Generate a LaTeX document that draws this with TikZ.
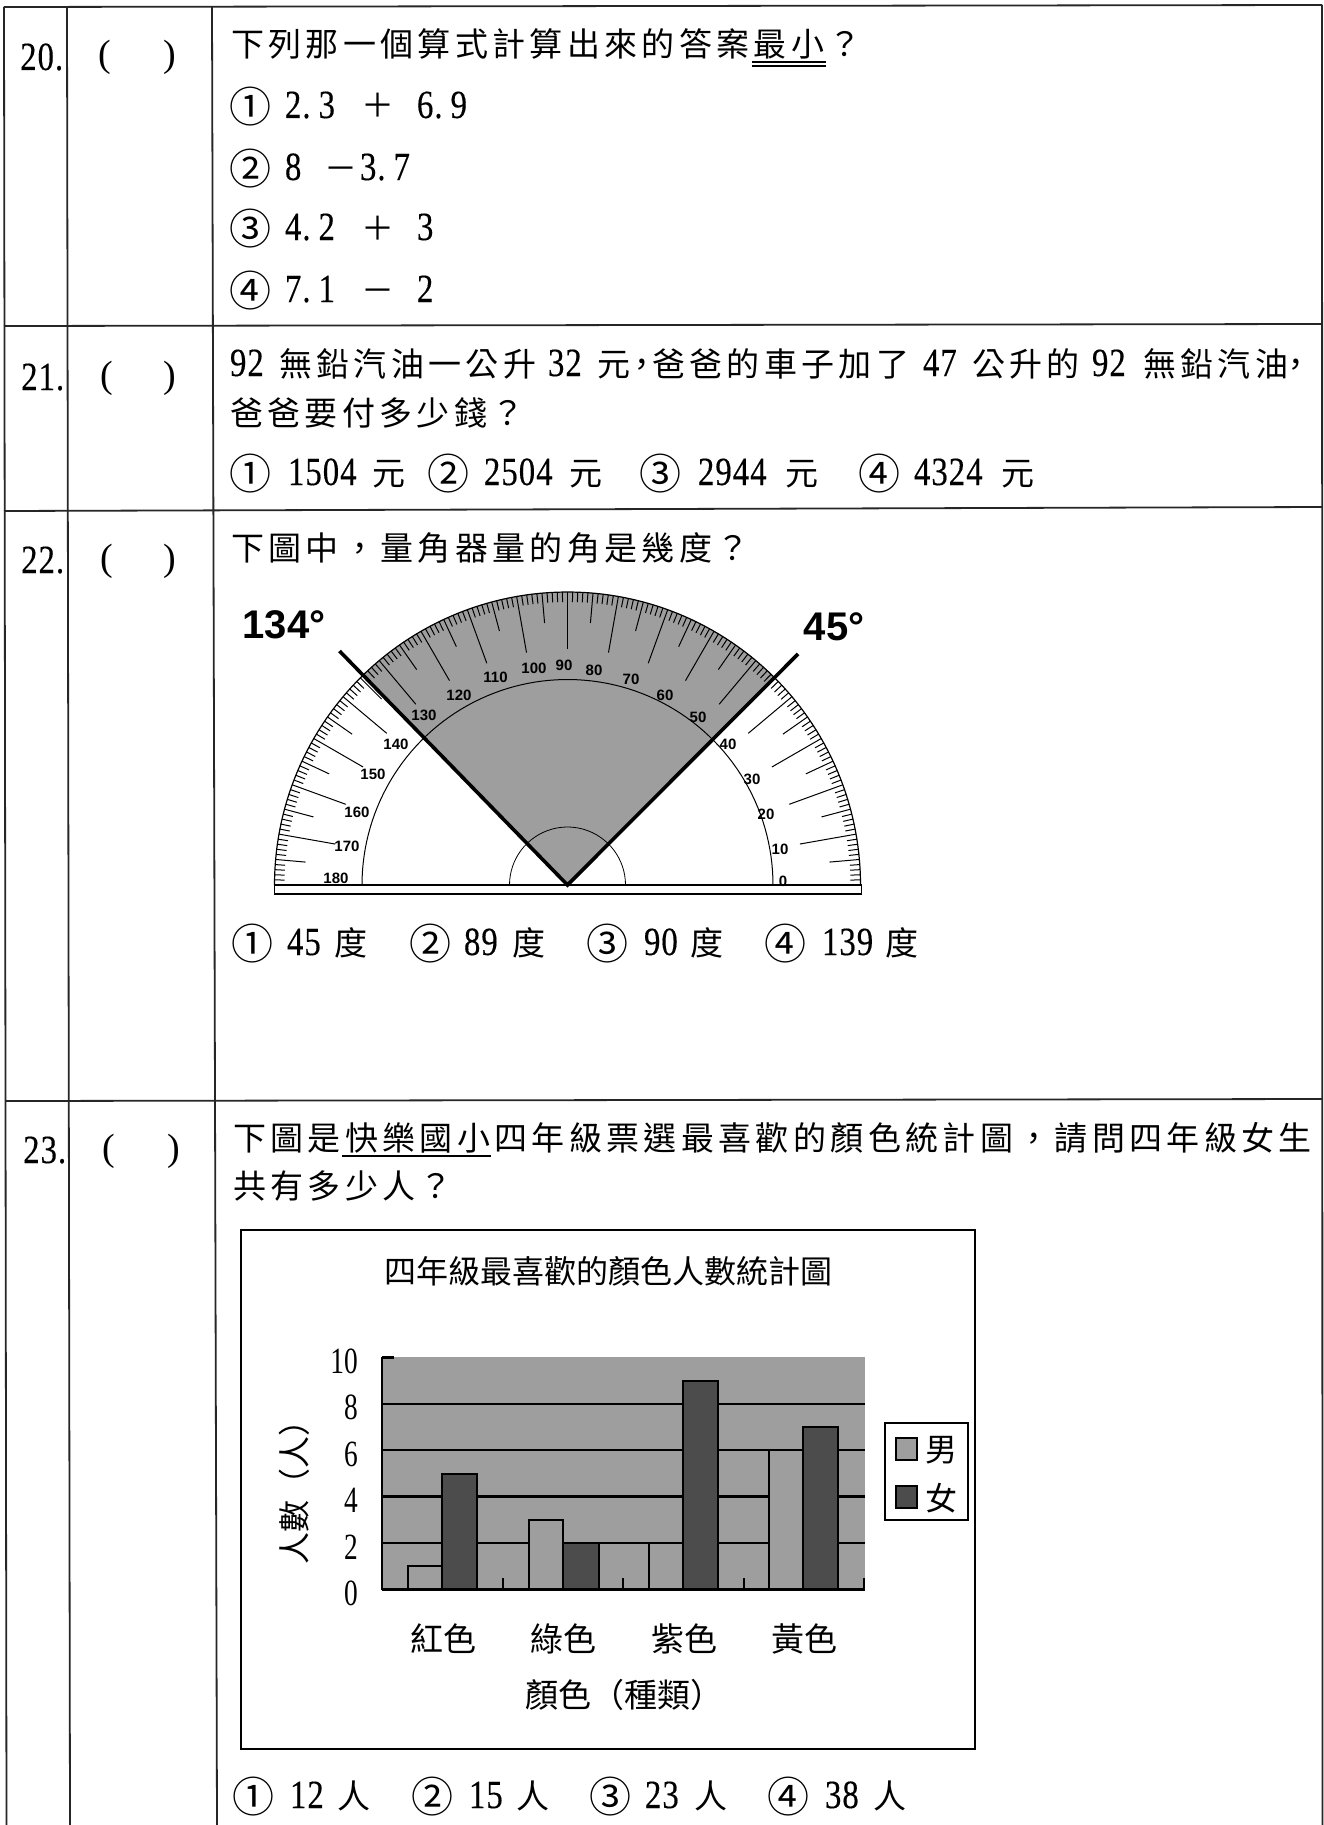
\documentclass[tikz,border=0pt]{standalone}
\usepackage{fontspec}
\setmainfont{Liberation Serif}
\newfontfamily\cjf[LetterSpace=13.2]{Noto Sans CJK TC}
\newfontfamily\cjn{Noto Sans CJK TC}
\newfontfamily\dgf[FakeStretch=0.82,LetterSpace=2.5,FakeBold=0.3]{Liberation Serif}
\newfontfamily\dgn[FakeStretch=0.74]{Liberation Serif}
\newfontfamily\arl{Liberation Sans}
\newcommand\CJ{\cjf\fontsize{33}{33}\selectfont}
\newcommand\CN[1]{\cjn\fontsize{#1}{#1}\selectfont}
\newcommand\DG{\dgf\fontsize{40}{40}\selectfont}
\newcommand\seg[2]{\rlap{\kern\dimexpr#1pt-229pt\relax #2}}
\newcommand\dk{.\kern 8pt }
\newcommand\cir[1]{\raisebox{-4.3pt}{\kern-1pt\CN{42}#1}}
\newcommand\tl[4]{\node[anchor=base west,inner sep=0pt,outer sep=0pt] (#1) at (229,#2) {\makebox[#3pt][l]{#4}};}
\newcommand\numrow[6]{%
 \node[anchor=base west,inner sep=0pt] (#1) at (#3,#2) {\DG #4};
 \node[anchor=base west,inner sep=0pt] (#1a) at (#5,#2-3) {\fontsize{38}{38}\selectfont (};
 \node[anchor=base west,inner sep=0pt] (#1b) at (#6,#2-3) {\fontsize{38}{38}\selectfont )};}
\definecolor{stip}{gray}{0.62}
\definecolor{dark}{gray}{0.30}
\tikzset{
 tabline/.style={line width=1.8pt,black!85},
 barbox/.style={draw=black,line width=2pt},
 gridl/.style={line width=2.6pt,black},
 plab/.style={font=\arl\bfseries\fontsize{15}{15}\selectfont,inner sep=0pt},
 ylab/.style={font=\dgn\fontsize{37}{37}\selectfont,anchor=east,inner sep=0pt},
 clab/.style={inner sep=0pt}
}
\newcommand\PX[2]{({567.5+#2*cos(#1)},{885-#2*sin(#1)})}
\newcommand\cbar[4]{\fill[#4] (#1,1589) rectangle (#2,{1589-23.1*#3}); \draw[barbox] (#1,1589) -- (#1,{1589-23.1*#3}) -- (#2,{1589-23.1*#3}) -- (#2,1589);}
\begin{document}
\begin{tikzpicture}[x=1pt,y=-1pt]
\useasboundingbox (0,0) rectangle (1324,1825);
\fill[white] (0,0) rectangle (1324,1825);
% table
\draw[tabline] (4,7) -- (1322,5);
\draw[tabline] (4,326) -- (1322,324);
\draw[tabline] (4,511) -- (1322,507);
\draw[tabline] (6,1101) -- (1322,1099);
\draw[tabline] (4,7) -- (6.5,1825);
\draw[tabline] (67,7) -- (70,1825);
\draw[tabline] (212,7) -- (217,1825);
\draw[tabline] (1322,5) -- (1322.5,1825);
% row 20
\numrow{n20}{70}{20}{20.}{98}{163}
\tl{q20}{56.5}{630}{\seg{231}{\CJ 下列那一個算式計算出來的答案最小？}}
\draw[line width=1.6pt] (752,62) -- (826,62);
\draw[line width=1.6pt] (752,66) -- (826,66);
\tl{a201}{118}{245}{\seg{230}{\cir{①}}\seg{285}{\DG 2\dk 3}\seg{361}{\CJ ＋}\seg{417}{\DG 6\dk 9}}
\tl{a202}{180}{190}{\seg{230}{\cir{②}}\seg{285}{\DG 8}\seg{324}{\CJ －}\seg{360}{\DG 3\dk 7}}
\tl{a203}{240}{205}{\seg{230}{\cir{③}}\seg{285}{\DG 4\dk 2}\seg{361}{\CJ ＋}\seg{417}{\DG 3}}
\tl{a204}{302}{205}{\seg{230}{\cir{④}}\seg{285}{\DG 7\dk 1}\seg{361}{\CJ －}\seg{417}{\DG 2}}
% row 21
\numrow{n21}{390}{21}{21.}{100}{163}
\tl{q211}{376}{1072}{\seg{230}{\DG 92}\seg{279}{\CJ 無鉛汽油一公升}\seg{548}{\DG 32}\seg{597}{\CJ 元}\seg{625}{\CJ ，}\seg{652}{\CJ 爸爸的車子加了}\seg{923}{\DG 47}\seg{972}{\CJ 公升的}\seg{1092}{\DG 92}\seg{1143}{\CJ 無鉛汽油}\seg{1279}{\CJ ，}}
\tl{q212}{425}{300}{\seg{230}{\CJ 爸爸要付多少錢？}}
\tl{a21}{485}{805}{\seg{230}{\cir{①}}\seg{288}{\DG 1504}\seg{372}{\CJ 元}\seg{428}{\cir{②}}\seg{484}{\DG 2504}\seg{569}{\CJ 元}\seg{640}{\cir{③}}\seg{698}{\DG 2944}\seg{785}{\CJ 元}\seg{859}{\cir{④}}\seg{914}{\DG 4324}\seg{1001}{\CJ 元}}
% row 22
\numrow{n22}{573}{21}{22.}{100}{163}
\tl{q22}{560}{515}{\seg{231}{\CJ 下圖中，量角器量的角是幾度？}}
% protractor
\fill[stip] (567.5,885) -- plot[domain=45:134,samples=50] ({567.5+293*cos(\x)},{885-293*sin(\x)}) -- cycle;
\foreach \a in {1,...,179}{
  \pgfmathsetmacro\rr{mod(\a,10)==0?236:(mod(\a,5)==0?263:283)}
  \draw[line width=1pt] \PX{\a}{293} -- \PX{\a}{\rr};
}
\draw[line width=1.2pt] plot[domain=0:180,samples=120] ({567.5+293*cos(\x)},{885-293*sin(\x)});
\draw[line width=1pt] plot[domain=0:180,samples=90] ({567.5+205.5*cos(\x)},{885-205.5*sin(\x)});
\draw[line width=.8pt] plot[domain=0:180,samples=40] ({567.5+58*cos(\x)},{885-58*sin(\x)});
\draw[line width=1.4pt,fill=white] (274.5,885) rectangle (861.5,894);
\draw[line width=2.4pt] (274.5,885) -- (861.5,885);
\draw[line width=3.6pt] (339.5,651) -- (567.5,885) -- (798,654);
\foreach \t/\x/\y in {180/336/878,170/347/846,160/357/812,150/373/774,140/396/744,130/424/715,120/459/695,110/495.5/677,100/534/668,90/564/665,80/594/670,70/631/679,60/665/695,50/698/717,40/728/744,30/752/779,20/766/814,10/780/849,0/783/881}
  \node[plab] (p\t) at (\x,\y) {\t};
\node[font=\arl\bfseries\fontsize{40}{40}\selectfont,inner sep=0pt] (ang1) at (284,625) {134°};
\node[font=\arl\bfseries\fontsize{40}{40}\selectfont,inner sep=0pt] (ang2) at (834,627) {45°};
\tl{a22}{955}{700}{\seg{232}{\cir{①}}\seg{287}{\DG 45}\seg{334}{\CJ 度}\seg{410}{\cir{②}}\seg{464}{\DG 89}\seg{512}{\CJ 度}\seg{587}{\cir{③}}\seg{644}{\DG 90}\seg{690}{\CJ 度}\seg{765}{\cir{④}}\seg{822}{\DG 139}\seg{885}{\CJ 度}}
% row 23
\numrow{n23}{1163}{23}{23.}{102}{167}
\tl{q231}{1150}{1085}{\seg{233}{\CJ 下圖是快樂國小四年級票選最喜歡的顏色統計圖，請問四年級女生}}
\draw[line width=2pt] (342,1155.5) -- (491,1155.5);
\tl{q232}{1198}{230}{\seg{233}{\CJ 共有多少人？}}
% chart
\draw[line width=2.6pt] (241,1230) rectangle (975,1749);
\node[clab,font=\CN{32}] (ctitle) at (608,1271) {四年級最喜歡的顏色人數統計圖};
\fill[stip] (382,1356.5) rectangle (865,1589.5);
\foreach \v in {1404,1450,1496.5,1543}
  \draw[gridl] (382,\v) -- (865,\v);
\draw[line width=1.2pt] (382,1356.5) -- (382,1589.5);
\draw[line width=2.4pt] (382,1357.5) -- (394,1357.5);
\cbar{408}{442}{1}{stip}
\cbar{442}{477}{5}{dark}
\cbar{529}{563}{3}{stip}
\cbar{563}{598.5}{2}{dark}
\cbar{649}{683}{2}{stip}
\cbar{683}{718}{9}{dark}
\cbar{769}{803}{6}{stip}
\cbar{803}{838}{7}{dark}
\draw[gridl] (382,1589.5) -- (865,1589.5);
\foreach \v in {502.5,623,743.5,864}
  \draw[line width=2pt] (\v,1589.5) -- (\v,1577.5);
\foreach \t/\y in {10/1361,8/1407.5,6/1454,4/1500.5,2/1547,0/1593}
  \node[ylab] (y\t) at (358,\y) {\t};
\node[clab,font=\CN{32},rotate=90] (ytitle) at (294,1484) {人數（人）};
\foreach \n/\t/\x in {c1/紅色/443,c2/綠色/563,c3/紫色/684,c4/黃色/804}
  \node[clab,font=\CN{33}] (\n) at (\x,1639) {\t};
\node[clab,font=\CN{33}] (xtitle) at (624,1695) {顏色（種類）};
\draw[line width=2pt] (884.5,1422.5) rectangle (968,1520);
\draw[barbox,fill=stip] (895.5,1438) rectangle (917,1460);
\draw[barbox,fill=dark] (895.5,1486) rectangle (917,1508);
\node[clab,font=\CN{32}] (lm) at (941,1450) {男};
\node[clab,font=\CN{32}] (lf) at (941,1498) {女};
\tl{a23}{1808}{690}{\seg{233}{\cir{①}}\seg{290}{\DG 12}\seg{337}{\CJ 人}\seg{412}{\cir{②}}\seg{469}{\DG 15}\seg{516}{\CJ 人}\seg{590}{\cir{③}}\seg{645}{\DG 23}\seg{694}{\CJ 人}\seg{768}{\cir{④}}\seg{825}{\DG 38}\seg{873}{\CJ 人}}
\end{tikzpicture}
\end{document}
